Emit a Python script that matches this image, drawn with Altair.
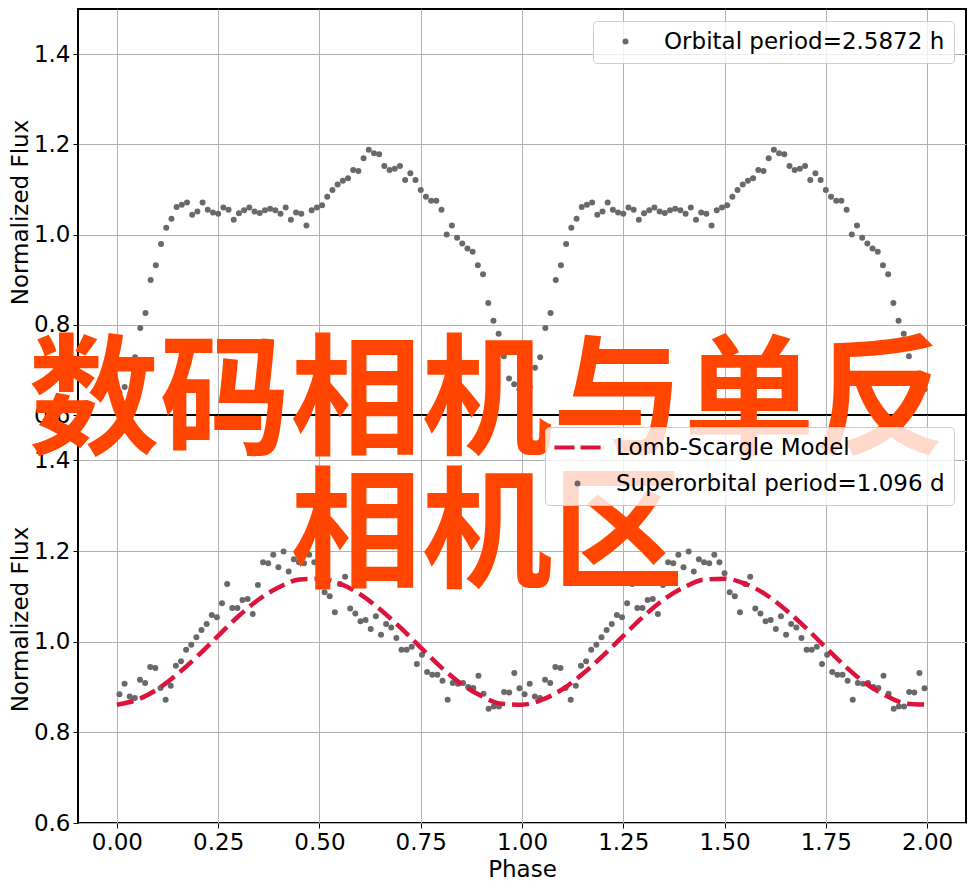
import altair as alt
import pandas as pd

FONT = "DejaVu Sans"
CJK_FONT = "Noto Sans CJK SC"

# ---------------- data ----------------
orbital_label = "Orbital period=2.5872 h"
model_label = "Lomb-Scargle Model"
superorbital_label = "Superorbital period=1.096 d"

# one orbital cycle (78 phase bins); the plot repeats it over phase 0-2
orbital_flux = [
    0.650, 0.662, 0.705, 0.728, 0.793, 0.826, 0.899, 0.932, 0.979, 1.015,
    1.035, 1.061, 1.066, 1.071, 1.044, 1.051, 1.071, 1.055, 1.049, 1.046,
    1.060, 1.055, 1.033, 1.047, 1.054, 1.060, 1.051, 1.048, 1.054, 1.057,
    1.054, 1.046, 1.060, 1.033, 1.049, 1.046, 1.020, 1.054, 1.060, 1.065,
    1.084, 1.099, 1.111, 1.119, 1.125, 1.143, 1.141, 1.169, 1.188, 1.180,
    1.178, 1.152, 1.143, 1.146, 1.152, 1.121, 1.136, 1.121, 1.099, 1.084,
    1.075, 1.075, 1.055, 1.000, 1.020, 0.993, 0.980, 0.969, 0.962, 0.932,
    0.912, 0.848, 0.809, 0.780, 0.730, 0.681, 0.668, 0.657,
]

# one superorbital cycle (79 phase bins); repeated over phase 0-2
superorbital_flux = [
    0.884, 0.907, 0.879, 0.876, 0.916, 0.909, 0.944, 0.942, 0.898, 0.872,
    0.903, 0.947, 0.957, 0.982, 0.993, 1.010, 1.026, 1.039, 1.059, 1.054,
    1.085, 1.127, 1.074, 1.074, 1.092, 1.094, 1.061, 1.125, 1.175, 1.173,
    1.192, 1.164, 1.199, 1.155, 1.182, 1.175, 1.173, 1.192, 1.175, 1.151,
    1.109, 1.100, 1.065, 1.127, 1.143, 1.073, 1.062, 1.045, 1.048, 1.028,
    1.056, 1.015, 1.039, 1.031, 1.008, 0.982, 0.982, 0.989, 0.951, 0.971,
    0.933, 0.927, 0.927, 0.914, 0.872, 0.909, 0.907, 0.909, 0.900, 0.898,
    0.925, 0.885, 0.852, 0.857, 0.857, 0.889, 0.888, 0.931, 0.897,
]

# Lomb-Scargle model curve, one cycle, read every 0.05 in phase
model_phase = [0.00, 0.05, 0.10, 0.15, 0.20, 0.25, 0.30, 0.35, 0.40, 0.45,
               0.50, 0.55, 0.60, 0.65, 0.70, 0.75, 0.80, 0.85, 0.90, 0.95, 1.00]
model_flux = [0.861, 0.872, 0.895, 0.929, 0.969, 1.013, 1.056, 1.093, 1.120, 1.137,
              1.139, 1.128, 1.105, 1.071, 1.031, 0.987, 0.944, 0.907, 0.880, 0.863, 0.861]

x_ticks = [0.0, 0.25, 0.5, 0.75, 1.0, 1.25, 1.5, 1.75, 2.0]
y_ticks = [0.6, 0.8, 1.0, 1.2, 1.4]
overlay_lines = ["数码相机与单反", "相机区"]

POINT_COLOR = "#696969"
MODEL_COLOR = "#dc143c"
OVERLAY_COLOR = "#ff4500"
GRID_COLOR = "#b0b0b0"
TEXT_SIZE = 23
POINT_SIZE = 36
PANEL_WIDTH = 888

# legend symbol for the dashed model line (two dashes, drawn as filled bars)
DASH_SYMBOL = "M-7.7,-0.7H-1.0V0.7H-7.7ZM1.0,-0.7H7.7V0.7H1.0Z"


def fold_two_cycles(values, series):
    n = len(values)
    rows = []
    for cycle in (0, 1):
        for i, v in enumerate(values):
            rows.append({"phase": cycle + (i + 0.5) / n, "flux": v, "series": series})
    return pd.DataFrame(rows)


orbital_df = fold_two_cycles(orbital_flux, orbital_label)
superorbital_df = fold_two_cycles(superorbital_flux, superorbital_label)

model_rows = []
for cycle in (0, 1):
    for p, f in zip(model_phase, model_flux):
        if cycle == 1 and p == 0.0:
            continue
        model_rows.append({"phase": cycle + p, "flux": f})
model_df = pd.DataFrame(model_rows)

overlay_df = pd.DataFrame({"caption": ["\n".join(overlay_lines)]})

# ---------------- scales / axes / legends ----------------
x_scale = alt.Scale(domain=[-0.096, 2.096], nice=False, zero=False)
y_scale = alt.Scale(domain=[0.6, 1.5], nice=False, zero=False)

y_axis = alt.Axis(values=y_ticks, format=".1f", title="Normalized Flux", titlePadding=1)
x_axis_top = alt.Axis(values=x_ticks, labels=False, ticks=False, title=None)
x_axis_bottom = alt.Axis(values=x_ticks, format=".2f", title="Phase", titlePadding=4)


def make_legend():
    return alt.Legend(
        title=None, orient="top-right", offset=12, padding=9,
        fillColor="rgba(255,255,255,0.8)", strokeColor="#cccccc", cornerRadius=4,
        labelFont=FONT, labelFontSize=TEXT_SIZE, labelColor="black", labelLimit=600,
        symbolSize=POINT_SIZE, symbolStrokeWidth=0, symbolOffset=12,
        labelOffset=27, rowPadding=12,
    )


# ---------------- top panel ----------------
top = alt.Chart(orbital_df).mark_point(
    filled=True, size=POINT_SIZE, opacity=1, strokeWidth=0, shape="circle"
).encode(
    x=alt.X("phase:Q", scale=x_scale, axis=x_axis_top),
    y=alt.Y("flux:Q", scale=y_scale, axis=y_axis),
    color=alt.Color("series:N", scale=alt.Scale(domain=[orbital_label], range=[POINT_COLOR]),
                    legend=make_legend()),
).properties(width=PANEL_WIDTH, height=406)

# ---------------- bottom panel ----------------
series_domain = [model_label, superorbital_label]
bottom_points = alt.Chart(superorbital_df).mark_point(
    filled=True, size=POINT_SIZE, opacity=1, strokeWidth=0
).encode(
    x=alt.X("phase:Q", scale=x_scale, axis=x_axis_bottom),
    y=alt.Y("flux:Q", scale=y_scale, axis=y_axis),
    color=alt.Color("series:N", scale=alt.Scale(domain=series_domain, range=[MODEL_COLOR, POINT_COLOR]),
                    legend=make_legend()),
    shape=alt.Shape("series:N", scale=alt.Scale(domain=series_domain, range=[DASH_SYMBOL, "circle"]),
                    legend=make_legend()),
)

model_line = alt.Chart(model_df).mark_line(
    color=MODEL_COLOR, strokeWidth=4.5, strokeDash=[17, 7], strokeCap="butt", interpolate="monotone"
).encode(
    x=alt.X("phase:Q", scale=x_scale),
    y=alt.Y("flux:Q", scale=y_scale),
)

overlay = alt.Chart(overlay_df).mark_text(
    font=CJK_FONT, fontSize=131, fontWeight="bold", color=OVERLAY_COLOR,
    align="center", baseline="middle", lineBreak="\n", lineHeight=133,
).encode(
    text="caption:N",
    x=alt.value(409),
    y=alt.value(-10),
)

bottom = alt.layer(bottom_points, model_line, overlay).properties(width=PANEL_WIDTH, height=408)

chart = alt.vconcat(top, bottom, spacing=0, bounds="flush").resolve_scale(
    color="independent", shape="independent"
).resolve_legend(
    color="independent", shape="independent"
).properties(
    padding={"left": 0, "top": 0, "right": 0, "bottom": 0}, background="white"
).configure_view(
    stroke="black", strokeWidth=2
).configure_axis(
    labelFont=FONT, titleFont=FONT, labelFontSize=TEXT_SIZE, titleFontSize=TEXT_SIZE,
    labelColor="black", titleColor="black", titleFontWeight="normal",
    tickColor="black", tickSize=5, tickWidth=1, labelPadding=3,
    gridColor=GRID_COLOR, gridWidth=1, gridOpacity=1, domain=False,
    labelFlush=False, labelOverlap=False,
)

chart.save("out.html", embed_options={"renderer": "svg", "actions": False})
